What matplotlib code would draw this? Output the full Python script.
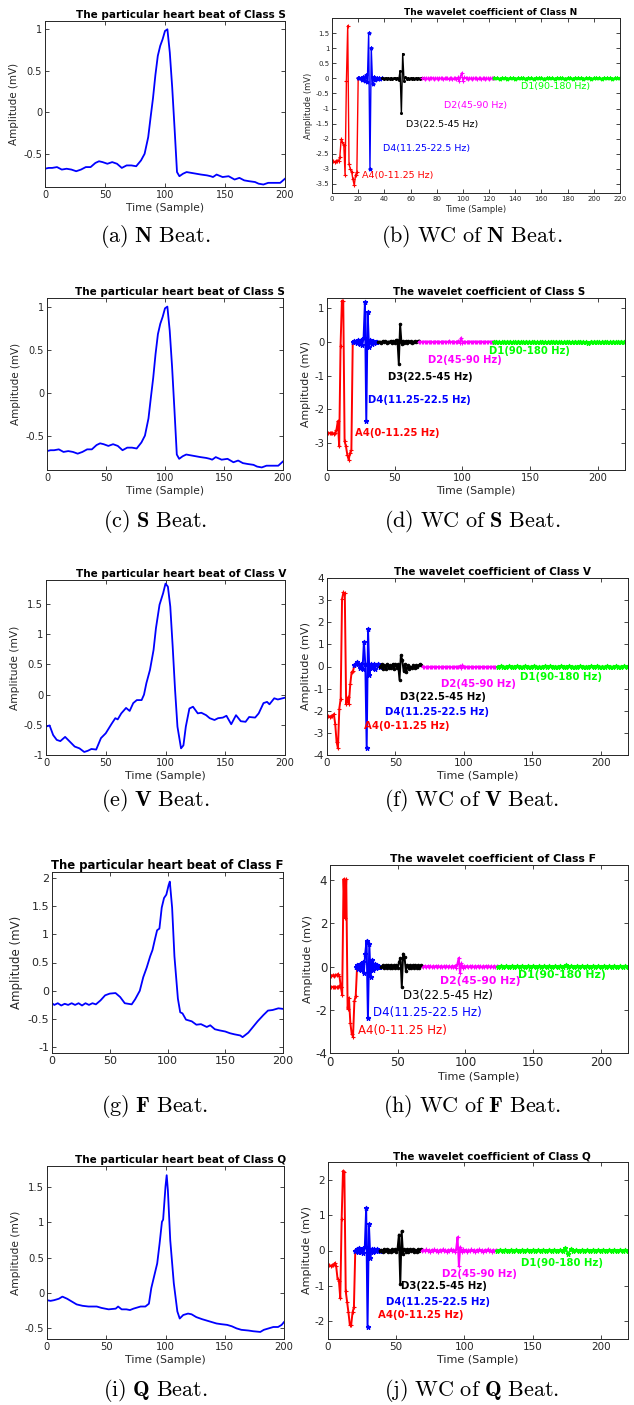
import numpy as np
import matplotlib.pyplot as plt

plt.rcParams['font.family'] = ['DejaVu Sans']
plt.rcParams['mathtext.fontset'] = 'cm'

# ---- heart beats (sample, amplitude in mV) read at key points ----
s_x = [0, 3, 6, 10, 14, 18, 22, 26, 30, 34, 38, 42, 45, 48, 52, 56, 60, 64, 68, 72,
       76, 80, 83, 86, 88, 90, 92, 94, 96, 98, 100, 102, 104, 106, 108, 110, 112, 115, 118, 122,
       126, 130, 135, 138, 140, 143, 148, 153, 158, 162, 166, 170, 175, 178, 182, 186, 190, 196, 200]
s_y = [-0.68, -0.67, -0.67, -0.66, -0.69, -0.68, -0.69, -0.71, -0.69, -0.66,
       -0.66, -0.61, -0.59, -0.6, -0.62, -0.6, -0.62, -0.67, -0.64, -0.64,
       -0.65, -0.58, -0.5, -0.3, -0.06, 0.17, 0.45, 0.68, 0.8, 0.88,
       0.98, 1.0, 0.72, 0.3, -0.2, -0.72, -0.77, -0.74, -0.72, -0.73,
       -0.74, -0.75, -0.76, -0.77, -0.78, -0.75, -0.78, -0.77, -0.81, -0.79,
       -0.82, -0.83, -0.84, -0.86, -0.87, -0.85, -0.85, -0.85, -0.8]

v_x = [0, 3, 6, 9, 12, 16, 20, 24, 28, 32, 35, 38, 42, 46, 50, 55, 58, 60, 63, 67,
       70, 73, 76, 80, 82, 84, 87, 90, 92, 95, 98, 100, 102, 104, 106, 108, 110, 113, 115, 117,
       120, 123, 127, 130, 134, 137, 141, 144, 148, 151, 155, 159, 163, 167, 170, 175, 178, 182, 185, 187,
       191, 194, 200]
v_y = [-0.53, -0.51, -0.67, -0.75, -0.77, -0.7, -0.78, -0.86, -0.89, -0.95,
       -0.93, -0.9, -0.91, -0.72, -0.64, -0.48, -0.39, -0.41, -0.31, -0.22,
       -0.27, -0.14, -0.09, -0.09, 0.0, 0.19, 0.41, 0.74, 1.1, 1.49,
       1.68, 1.84, 1.79, 1.46, 0.8, 0.08, -0.53, -0.89, -0.84, -0.53,
       -0.23, -0.2, -0.31, -0.3, -0.34, -0.39, -0.42, -0.39, -0.38, -0.35,
       -0.49, -0.34, -0.44, -0.45, -0.37, -0.38, -0.31, -0.14, -0.12, -0.16,
       -0.06, -0.08, -0.05]

f_x = [0, 2, 5, 8, 11, 14, 17, 20, 23, 26, 29, 32, 35, 38, 42, 46, 50, 55, 59, 63,
       69, 72, 76, 79, 82, 85, 87, 89, 91, 93, 95, 97, 99, 101, 102, 104, 106, 109, 111, 113,
       116, 121, 125, 129, 134, 137, 141, 145, 150, 154, 158, 163, 165, 170, 174, 178, 183, 187, 191, 196,
       200]
f_y = [-0.22, -0.25, -0.22, -0.26, -0.23, -0.25, -0.22, -0.25, -0.22, -0.26,
       -0.22, -0.25, -0.22, -0.24, -0.17, -0.08, -0.05, -0.04, -0.11, -0.22,
       -0.24, -0.15, 0.0, 0.24, 0.41, 0.61, 0.72, 0.9, 1.07, 1.1,
       1.47, 1.64, 1.7, 1.87, 1.93, 1.47, 0.61, -0.14, -0.38, -0.4,
       -0.51, -0.54, -0.6, -0.59, -0.64, -0.61, -0.68, -0.7, -0.72, -0.75,
       -0.77, -0.79, -0.82, -0.74, -0.64, -0.54, -0.43, -0.35, -0.34, -0.31,
       -0.32]

q_x = [0, 3, 6, 10, 13, 17, 21, 25, 30, 35, 42, 46, 52, 58, 60, 63, 67, 70, 73, 79,
       83, 86, 88, 91, 93, 95, 97, 98, 100, 101, 102, 104, 107, 110, 112, 115, 119, 122, 126, 131,
       135, 139, 143, 147, 152, 156, 160, 164, 170, 174, 180, 183, 187, 191, 195, 198, 200]
q_y = [-0.1, -0.11, -0.1, -0.08, -0.05, -0.08, -0.12, -0.16, -0.18, -0.19,
       -0.19, -0.21, -0.23, -0.22, -0.19, -0.23, -0.23, -0.24, -0.22, -0.19,
       -0.19, -0.15, 0.07, 0.28, 0.42, 0.7, 1.01, 1.04, 1.51, 1.67,
       1.46, 0.75, 0.14, -0.26, -0.36, -0.31, -0.29, -0.3, -0.34, -0.37,
       -0.39, -0.41, -0.43, -0.44, -0.45, -0.47, -0.5, -0.52, -0.53, -0.54,
       -0.55, -0.52, -0.5, -0.48, -0.48, -0.45, -0.41]

# ---- wavelet coefficients: band values, first sample, sample step ----
band_names = ['A4(0-11.25 Hz)', 'D4(11.25-22.5 Hz)', 'D3(22.5-45 Hz)', 'D2(45-90 Hz)', 'D1(90-180 Hz)']

n_a4 = [-2.75, -2.75, -2.76, -2.75, -2.75, -2.74, -2.6, -2.02, -2.12, -2.2, -3.2, -0.1, 1.75, -2.85,
        -3.0, -3.1, -3.35, -3.55, -3.2, -3.1, 0.0]
n_d4 = [0.0, 0.0, 0.02, -0.04, 0.05, -0.08, 0.1, -0.12, 1.5, -3.0, 1.0, -0.2, 0.05, -0.05, 0.02, -0.03,
        0.02, -0.01, 0.0]
n_d3 = [0.0, 0.01, -0.02, 0.02, -0.01, 0.01, -0.02, 0.02, -0.01, 0.0, 0.02, -0.03, 0.02, -0.05,
        0.25, -1.15, 0.82,
        -0.08, 0.03, -0.02, 0.02, -0.02, 0.01, -0.01, 0.02, -0.02, 0.01, -0.01, 0.02, -0.01, 0.01, 0.02]
n_d2 = [0.0, 0.01, -0.01, 0.02, 0.0, -0.01, 0.01, 0.0, 0.02, -0.01, 0.0, 0.01, -0.01, 0.02, 0.0, 0.01,
        -0.02, 0.01, 0.0, 0.02, -0.01, 0.0, 0.01, -0.01, 0.0, 0.02, -0.01, 0.03,
        -0.1, 0.05, 0.18, -0.08, 0.03,
        0.0, 0.01, -0.01, 0.02, 0.0, -0.01, 0.01, 0.0, 0.02, -0.01, 0.0, 0.01, -0.01, 0.0, 0.02, -0.01,
        0.01, 0.0, -0.01, 0.01, 0.0, 0.01, 0.0]
n_d1 = [0.0, 0.01, -0.01, 0.0, 0.02, -0.01, 0.01, 0.0, -0.01, 0.01,
        0.0, 0.02, -0.01, 0.0, 0.01, -0.01, 0.0, 0.01, 0.0, -0.02,
        0.01, 0.0, 0.01, -0.01, 0.0, 0.02, 0.0, -0.01, 0.01, 0.0,
        -0.01, 0.01, 0.0, 0.01, -0.01, 0.0, 0.02, -0.01, 0.0, 0.01,
        0.0, -0.01, 0.01, 0.0, 0.01, -0.01, 0.0, 0.01, 0.0]
n_start = [0, 20, 38, 69, 124]

s_a4 = [-2.7, -2.7, -2.71, -2.7, -2.7, -2.72, -2.7, -2.6, -2.35, -3.1, -0.12, 1.22, 1.2, -2.95, -3.1,
        -3.35, -3.5, -3.3, -3.2, 0.0]
s_d4 = [0.0, 0.02, 0.0, -0.04, 0.05, -0.06, 0.06, -0.08, 0.1, 1.18, -2.35, 0.88, -0.15, 0.05, -0.05,
        0.02, -0.02, 0.01, 0.0]
s_d3 = [0.0, 0.01, -0.02, 0.02, -0.01, 0.02, -0.02, 0.01, -0.01, 0.03, -0.02, 0.02, -0.03, 0.04, 0.05,
        -0.65, 0.52,
        -0.05, 0.03, -0.02, 0.02, -0.03, 0.02, -0.01, 0.02, -0.02, 0.01, 0.02, -0.01, 0.02, 0.03]
s_d2 = [0.0, 0.01, -0.01, 0.0, 0.01, 0.0, -0.01, 0.01, 0.0, 0.01, -0.01, 0.0, 0.01, 0.0, 0.01, -0.01,
        0.0, 0.01, 0.0, 0.01, -0.01, 0.0, 0.02, -0.01, 0.0, 0.01, 0.0, -0.01, 0.01, 0.02,
        -0.03, 0.12, -0.02,
        0.01, 0.0, -0.01, 0.01, 0.0, 0.01, -0.01, 0.0, 0.01, 0.0, -0.01, 0.01, 0.0, 0.01, 0.0, -0.01,
        0.01, 0.0, 0.0, 0.01, -0.01, 0.0, 0.01]
s_d1 = [0.0, 0.01, 0.0, -0.01, 0.01, 0.0, 0.01, -0.01, 0.0, 0.01,
        0.0, -0.01, 0.01, 0.0, 0.0, 0.01, -0.01, 0.0, 0.01, 0.0,
        -0.01, 0.01, 0.0, 0.01, 0.0, -0.01, 0.0, 0.01, 0.0, -0.01,
        0.01, 0.0, 0.01, 0.0, -0.01, -0.03, 0.01, 0.0, 0.01, -0.01,
        0.0, 0.01, 0.0, -0.01, 0.01, 0.0, 0.0, 0.01, 0.0, 0.0]
s_start = [0, 19, 38, 68, 123]

v_a4 = [-2.3, -2.25, -2.26, -2.25, -2.25, -2.15, -2.6, -3.4, -3.7, -1.9, -1.45, 3.05, 3.35, 3.3, -1.7,
        -1.4, -1.7, -0.8, -0.25, -0.2, 0.05]
v_d4 = [0.05, 0.1, 0.2, 0.1, -0.05, 0.1, -0.1, 1.12, 0.1, -3.68, 1.68, -0.4, 0.1, -0.05, 0.12, -0.1,
        0.05, 0.1, 0.05, 0.0]
v_d3 = [0.0, 0.1, -0.1, 0.05, -0.12, 0.1, -0.08, 0.05, -0.05, 0.1, -0.1, 0.1, -0.05, 0.1,
        -0.6, 0.5, 0.3, -0.2, 0.1, -0.25, 0.05, -0.1, 0.0, -0.05, 0.05, -0.05, 0.05, 0.0, 0.05, 0.1, 0.05]
v_d2 = [0.0, -0.02, -0.03, -0.02, -0.01, -0.03, -0.02, -0.02, -0.01, -0.03, -0.02, -0.02, -0.01, -0.03,
        -0.02, -0.01, -0.02, -0.03, -0.02, -0.01, -0.02, -0.03, -0.02, -0.02, -0.01, -0.03, -0.02, 0.02,
        -0.08, 0.06, -0.04,
        -0.02, -0.01, -0.03, -0.02, -0.02, -0.01, -0.03, -0.02, -0.02, -0.01, -0.02, -0.03, -0.02, -0.01,
        -0.02, -0.02, -0.03, -0.01, -0.02, -0.02, -0.01, -0.03, -0.02, -0.02]
v_d1 = [0.0, 0.01, -0.01, 0.0, 0.01, 0.0, -0.01, 0.01, 0.0, 0.0,
        0.01, -0.01, 0.0, 0.01, 0.0, -0.01, 0.0, 0.01, 0.0, 0.01,
        -0.01, 0.0, 0.0, 0.01, -0.01, 0.0, 0.01, 0.0, -0.01, 0.0,
        0.01, 0.0, 0.0, -0.01, 0.01, 0.0, 0.01, -0.01, 0.0, 0.0,
        0.01, 0.0, -0.01, 0.01, 0.0, 0.0, 0.01, 0.0]
v_start = [0, 20, 39, 70, 125]

f_a4 = [-0.4, -0.42, -0.4, -0.43, -0.4, -0.38, -0.35, -0.45, -0.95, -1.3, 4.05, 2.25, 4.05, -1.95,
        -1.45, -2.6, -3.1, -3.25, -1.6, -1.35, 0.0]
f_a4_low = [-0.95, -0.95, -0.94, -0.95, -0.95, -0.96, -0.95, -0.9, -0.95]
f_d4 = [0.0, 0.05, -0.1, 0.12, -0.15, 0.2, -0.3, 0.6, 1.2, -2.4, 1.05, -0.5, 0.3, -0.15, 0.1, -0.05,
        0.05, 0.0, 0.0]
f_d3 = [0.0, 0.06, -0.07, 0.05, -0.08, 0.07, -0.06, 0.08, -0.07, 0.05, -0.08, 0.06, -0.05,
        0.2, 0.4, -0.95, 0.6, 0.45, -0.2,
        0.08, -0.07, 0.06, -0.08, 0.05, -0.06, 0.07, -0.05, 0.06, -0.07, 0.05, 0.02]
f_d2 = [0.0, 0.03, -0.04, 0.03, -0.03, 0.04, -0.03, 0.02, -0.04, 0.03, -0.02, 0.04, -0.03, 0.03, -0.04,
        0.02, -0.03, 0.04, -0.02, 0.03, -0.04, 0.03, -0.03, 0.04, -0.05,
        0.1, 0.4, -0.3, 0.15, -0.05,
        0.04, -0.03, 0.03, -0.04, 0.02, -0.03, 0.04, -0.03, 0.02, -0.04, 0.03, -0.02, 0.03, -0.04, 0.02,
        -0.03, 0.03, -0.02, 0.04, -0.03, 0.02, -0.03, 0.03, -0.02, 0.01]
f_d1 = [0.0, 0.02, -0.01, 0.01, -0.02, 0.01, 0.0, 0.02, -0.01, 0.01,
        -0.02, 0.01, 0.0, 0.02, -0.01, 0.01, -0.02, 0.01, 0.0, 0.02,
        -0.01, 0.01, -0.02, 0.01, 0.0, 0.06, -0.04, 0.02, -0.01, 0.01,
        -0.02, 0.01, 0.0, 0.02, -0.01, 0.01, -0.02, 0.01, 0.0, 0.02,
        -0.01, 0.01, -0.02, 0.01, 0.0, 0.02, -0.01, 0.01, 0.0]
f_start = [0, 19, 38, 69, 124]

q_a4 = [-0.42, -0.42, -0.43, -0.42, -0.42, -0.35, -0.45, -0.8, -0.85, -1.35, 0.88, 2.25, 2.22, -1.15,
        -1.45, -1.75, -2.1, -2.1, -1.75, -1.6, 0.0]
q_d4 = [0.0, 0.05, -0.05, 0.08, -0.05, 0.05, -0.08, 0.1, 1.2, -2.15, 0.75, -0.2, 0.05, -0.03, 0.04,
        -0.02, 0.03, -0.01, 0.0]
q_d3 = [0.0, 0.02, -0.03, 0.03, -0.02, 0.03, -0.03, 0.02, -0.03, 0.03, -0.02, 0.03, -0.03, 0.05,
        0.45, -0.95, 0.55, -0.1,
        0.04, -0.03, 0.03, -0.04, 0.03, -0.02, 0.03, -0.03, 0.02, -0.03, 0.03, -0.02, 0.03]
q_d2 = [0.0, 0.02, -0.02, 0.03, -0.02, 0.02, -0.03, 0.02, -0.02, 0.03, -0.02, 0.02, -0.03, 0.02, -0.02,
        0.03, -0.02, 0.02, -0.03, 0.02, -0.02, 0.03, -0.02, 0.02, -0.04, 0.05,
        0.38, -0.45, 0.1,
        -0.04, 0.03, -0.02, 0.02, -0.03, 0.02, -0.02, 0.03, -0.02, 0.02, -0.03, 0.02, -0.02, 0.03, -0.02,
        0.02, -0.03, 0.02, -0.02, 0.03, -0.02, 0.02, -0.03, 0.02, -0.02, 0.01]
q_d1 = [0.0, 0.02, -0.01, 0.02, -0.02, 0.01, 0.0, 0.02, -0.01, 0.01,
        -0.02, 0.02, 0.0, 0.01, -0.02, 0.02, -0.01, 0.01, 0.0, 0.02,
        -0.02, 0.01, -0.01, 0.02, -0.02, 0.08, -0.1, 0.03, -0.01, 0.02,
        -0.02, 0.01, 0.0, 0.02, -0.01, 0.01, -0.02, 0.02, 0.0, 0.01,
        -0.02, 0.02, -0.01, 0.01, 0.0, 0.02, -0.01, 0.01, 0.0]
q_start = [0, 20, 38, 69, 124]
band_step = [1, 1, 1, 1, 2]

# ---- layout ----
W, H = 634, 1405
fig = plt.figure(figsize=(W / 100, H / 100), dpi=100)
band_colors = ['#ff0000', '#0000ff', '#000000', '#ff00ff', '#00ff00']
band_markers = ['+', '*', '.', '+', '*']
GRAY = '#262626'


def rect(l, t, r, b):
    return [l / W, 1 - b / H, (r - l) / W, (b - t) / H]


def style(ax, fs):
    ax.tick_params(direction='in', top=True, right=True, length=3, width=0.6,
                   labelsize=fs, colors=GRAY, pad=2)
    for sp in ax.spines.values():
        sp.set_linewidth(0.7)
        sp.set_color(GRAY)


def beat_panel(box, x, y, cls, ylim, yticks, fs, tfs, tx, xlabel=True):
    ax = fig.add_axes(rect(*box))
    ax.plot(x, y, color='#0000ff', lw=1.3)
    ax.set_xlim(0, 200)
    ax.set_ylim(*ylim)
    ax.set_xticks([0, 50, 100, 150, 200])
    ax.set_yticks(yticks)
    ax.set_yticklabels(['%g' % v for v in yticks])
    style(ax, fs)
    ax.set_ylabel('Amplitude (mV)', fontsize=fs + 0.5, color=GRAY, labelpad=3)
    if xlabel:
        ax.set_xlabel('Time (Sample)', fontsize=fs + 0.7, color=GRAY, labelpad=2)
    ax.set_title('The particular heart beat of Class ' + cls, fontsize=tfs,
                 fontweight='bold', x=tx, pad=2)
    return ax


def wc_panel(box, bands, starts, cls, ylim, yticks, xticks, fs, lfs, tfs, tx, lab_pos, lab_fs, lab_w,
             lw, ms):
    ax = fig.add_axes(rect(*box))
    for k, vals in enumerate(bands):
        xs = starts[k] + band_step[k] * np.arange(len(vals))
        ax.plot(xs, vals, color=band_colors[k], lw=lw, marker=band_markers[k], ms=ms, mew=0.8)
        ax.text(lab_pos[k][0], lab_pos[k][1], band_names[k], color=band_colors[k],
                fontsize=lab_fs[k], fontweight=lab_w[k], ha='left', va='center')
    ax.set_xlim(0, 220)
    ax.set_ylim(*ylim)
    ax.set_xticks(xticks)
    ax.set_yticks(yticks)
    ax.set_yticklabels(['%g' % v for v in yticks])
    style(ax, fs)
    ax.set_ylabel('Amplitude (mV)', fontsize=lfs, color=GRAY, labelpad=2)
    ax.set_xlabel('Time (Sample)', fontsize=lfs, color=GRAY, labelpad=2)
    ax.set_title('The wavelet coefficient of Class ' + cls, fontsize=tfs,
                 fontweight='bold', x=tx, pad=2)
    return ax


def caption(x, y, s):
    fig.text(x / W, 1 - y / H, s, ha='center', va='center', fontsize=16, color='black')


x50 = [0, 50, 100, 150, 200]

# row 1
beat_panel((45, 21, 285, 187), s_x, s_y, 'S', (-0.9, 1.1), [-0.5, 0, 0.5, 1], 7, 7.5, 0.567)
wc_panel((332, 18, 620, 193), [n_a4, n_d4, n_d3, n_d2, n_d1], n_start, 'N', (-3.8, 2.0),
         np.arange(-3.5, 1.6, 0.5), np.arange(0, 221, 20), 5, 6.0, 6.5, 0.55,
         [(23.2, -3.22), (39.2, -2.31), (56.5, -1.54), (85.6, -0.91), (144, -0.27)],
         [6.8] * 5, ['normal'] * 5, 1.0, 2.8)
caption(155, 236, r'$\mathrm{(a)\ }\mathbf{N}\mathrm{\ Beat.}$')
caption(472, 236, r'$\mathrm{(b)\ WC\ of\ }\mathbf{N}\mathrm{\ Beat.}$')

# row 2
beat_panel((47, 298, 283, 470), s_x, s_y, 'S', (-0.9, 1.1), [-0.5, 0, 0.5, 1], 7, 7.5, 0.565)
wc_panel((327, 298, 625, 470), [s_a4, s_d4, s_d3, s_d2, s_d1], s_start, 'S', (-3.8, 1.3),
         [-3, -2, -1, 0, 1], x50, 7.2, 7.8, 7.3, 0.544,
         [(20.4, -2.69), (30.2, -1.72), (45, -1.03), (74.9, -0.55), (119.7, -0.27)],
         [7.2] * 5, ['bold'] * 5, 1.4, 3.5)
caption(155, 521, r'$\mathrm{(c)\ }\mathbf{S}\mathrm{\ Beat.}$')
caption(472, 521, r'$\mathrm{(d)\ WC\ of\ }\mathbf{S}\mathrm{\ Beat.}$')

# row 3
beat_panel((46, 580, 285, 755), v_x, v_y, 'V', (-1, 1.9), [-1, -0.5, 0, 0.5, 1, 1.5], 7.2, 7.5, 0.565)
wc_panel((327, 578, 628, 755), [v_a4, v_d4, v_d3, v_d2, v_d1], v_start, 'V', (-4, 4),
         np.arange(-4, 5, 1), x50, 7.5, 8.0, 7.4, 0.548,
         [(26.7, -2.71), (42.5, -2.06), (53.5, -1.38), (83.2, -0.8), (141, -0.48)],
         [7.3] * 5, ['bold'] * 5, 1.4, 3.5)
caption(155, 800, r'$\mathrm{(e)\ }\mathbf{V}\mathrm{\ Beat.}$')
caption(472, 800, r'$\mathrm{(f)\ WC\ of\ }\mathbf{V}\mathrm{\ Beat.}$')

# row 4
beat_panel((52, 872, 283, 1053), f_x, f_y, 'F', (-1.1, 2.1), [-1, -0.5, 0, 0.5, 1, 1.5, 2], 8, 8.4, 0.5,
           xlabel=False)
axh = wc_panel((330, 865, 628, 1053), [f_a4, f_d4, f_d3, f_d2, f_d1], f_start, 'F', (-4, 4.7),
               [-4, -2, 0, 2, 4], x50, 8.5, 8.0, 7.8, 0.547,
               [(20.9, -2.96), (31.5, -2.14), (54.1, -1.36), (81.1, -0.66), (138.9, -0.39)],
               [8.5, 8.5, 8.5, 7.8, 7.8], ['normal', 'normal', 'normal', 'bold', 'bold'], 1.4, 3.5)
axh.plot(np.arange(len(f_a4_low)), f_a4_low, color=band_colors[0], lw=1.4, marker='+', ms=3.5, mew=0.8)
caption(155, 1107, r'$\mathrm{(g)\ }\mathbf{F}\mathrm{\ Beat.}$')
caption(472, 1107, r'$\mathrm{(h)\ WC\ of\ }\mathbf{F}\mathrm{\ Beat.}$')

# row 5
beat_panel((47, 1166, 284, 1339), q_x, q_y, 'Q', (-0.65, 1.8), [-0.5, 0, 0.5, 1, 1.5], 7.2, 7.5, 0.565)
wc_panel((328, 1162, 628, 1339), [q_a4, q_d4, q_d3, q_d2, q_d1], q_start, 'Q', (-2.5, 2.5),
         [-2, -1, 0, 1, 2], x50, 7.5, 8.0, 7.4, 0.547,
         [(36.3, -1.83), (42.7, -1.45), (53.4, -1.0), (83.4, -0.67), (141.2, -0.35)],
         [7.3] * 5, ['bold'] * 5, 1.4, 3.5)
caption(155, 1390, r'$\mathrm{(i)\ }\mathbf{Q}\mathrm{\ Beat.}$')
caption(472, 1390, r'$\mathrm{(j)\ WC\ of\ }\mathbf{Q}\mathrm{\ Beat.}$')

fig.savefig('out.png', dpi=100)
